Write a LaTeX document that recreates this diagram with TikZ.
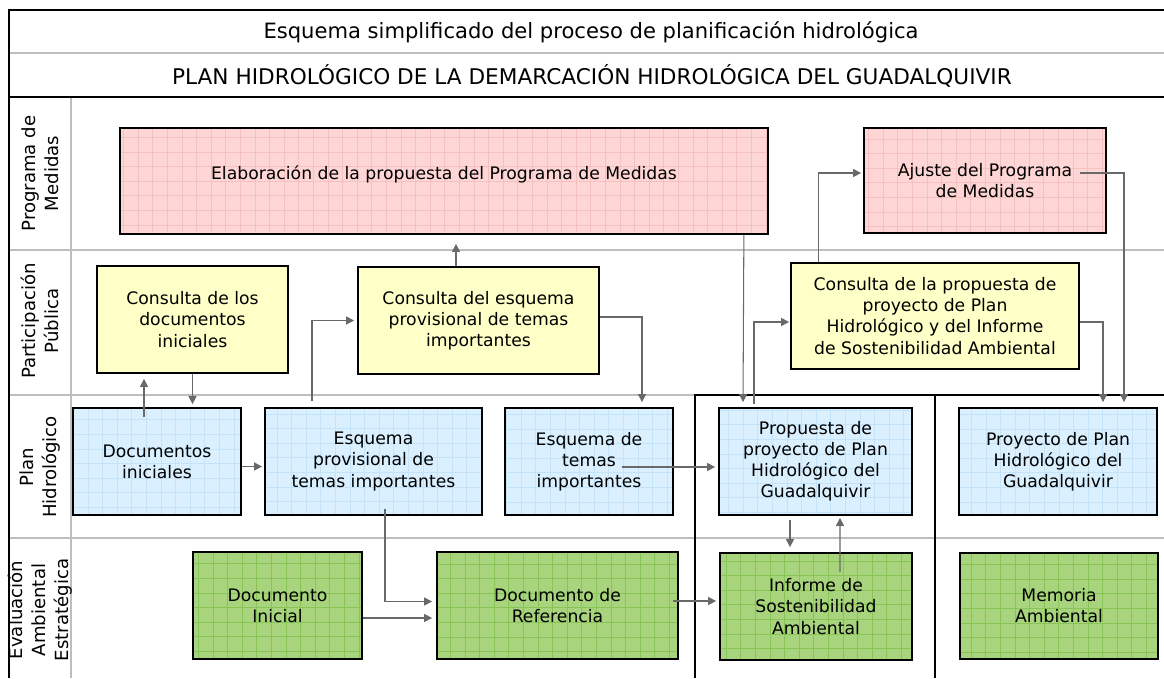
\documentclass[tikz,border=0pt]{standalone}
\usepackage{fontspec}
\setmainfont{DejaVu Sans}
\usetikzlibrary{calc,arrows.meta}
\definecolor{rosa}{RGB}{255,214,214}
\definecolor{rosagrid}{RGB}{245,192,192}
\definecolor{azul}{RGB}{218,240,255}
\definecolor{azulgrid}{RGB}{196,227,248}
\definecolor{amarillo}{RGB}{255,255,200}
\definecolor{verde}{RGB}{168,212,125}
\definecolor{verdegrid}{RGB}{136,196,86}
\definecolor{linea}{RGB}{190,190,190}
\definecolor{flechagris}{RGB}{105,105,105}
\tikzset{
  caja/.style={draw=black, line width=1pt, align=center, inner sep=2pt,
    font=\fontsize{9.8}{12}\selectfont},
  tam/.style 2 args={minimum width=#1*0.2mm, minimum height=#2*0.2mm},
  cuadricula/.style={path picture={\draw[#1, line width=0.45pt]
    (path picture bounding box.south west) grid[step=2.92mm]
    (path picture bounding box.north east);}},
  rosabox/.style={caja, fill=rosa, cuadricula=rosagrid},
  azulbox/.style={caja, fill=azul, cuadricula=azulgrid},
  amarillobox/.style={caja, fill=amarillo},
  verdebox/.style={caja, fill=verde, cuadricula=verdegrid},
  carril/.style={rotate=90, align=center, font=\fontsize{10.3}{13}\selectfont},
  flecha/.style={flechagris, line width=0.6pt, -{Triangle[length=4.6pt,width=4.6pt]}}
}
\begin{document}
\begin{tikzpicture}[x=0.2mm, y=-0.2mm]
\useasboundingbox (0,0) rectangle (1164,678);
% lanes and frame
\draw[linea, line width=1pt] (9,53) -- (1164,53);
\draw[linea, line width=1pt] (71,97) -- (71,678);
\foreach \y in {250,395,538}
  \draw[linea, line width=1pt] (9,\y) -- (1164,\y);
\draw[line width=1.3pt] (1164,10) -- (9,10) -- (9,678);
\draw[line width=1.3pt] (9,97) -- (1164,97);
\draw[line width=1.3pt] (695,678) -- (695,395) -- (1164,395);
\draw[line width=1.3pt] (935,395) -- (935,678);
% titles
\node[font=\fontsize{12}{14}\selectfont] (titulo) at (591,32)
  {Esquema simplificado del proceso de planificación hidrológica};
\node[font=\fontsize{12.3}{14}\selectfont] (subtitulo) at (592,76)
  {PLAN HIDROLÓGICO DE LA DEMARCACIÓN HIDROLÓGICA DEL GUADALQUIVIR};
% lane labels
\node[carril] (lpm) at (40,173.5) {Programa de\\Medidas};
\node[carril] (lpp) at (40,321) {Participación\\Pública};
\node[carril] (lph) at (40,467) {Plan\\Hidrológico};
\node[carril] (lea) at (40,610) {Evaluación\\Ambiental\\Estratégica};
% Programa de Medidas
\node[rosabox, tam={648}{106}] (elab) at (444,181)
  {\raisebox{9pt}{Elaboración de la propuesta del Programa de Medidas}};
\node[rosabox, tam={242}{105}] (ajus) at (985,180.5)
  {Ajuste del Programa\\de Medidas};
% Participacion Publica
\node[amarillobox, tam={191}{107}] (cdi) at (192.5,319.5)
  {Consulta de los\\documentos\\iniciales};
\node[amarillobox, tam={241}{107}] (cesq) at (478.5,320.5)
  {Consulta del esquema\\provisional de temas\\importantes};
\node[amarillobox, tam={288}{106}] (cprop) at (935,316)
  {Consulta de la propuesta de\\proyecto de Plan\\Hidrológico y del Informe\\de Sostenibilidad Ambiental};
% Plan Hidrologico
\node[azulbox, tam={168}{107}] (dini) at (157,461.5) {Documentos\\iniciales};
\node[azulbox, tam={217}{107}] (epro) at (373.5,461.5)
  {Esquema\\provisional de\\temas importantes};
\node[azulbox, tam={168}{107}] (etem) at (589,461.5)
  {Esquema de\\temas\\importantes};
\node[azulbox, tam={193}{107}] (pprop) at (815.5,461.5)
  {Propuesta de\\proyecto de Plan\\Hidrológico del\\Guadalquivir};
\node[azulbox, tam={198}{107}] (proy) at (1058,461.5)
  {Proyecto de Plan\\Hidrológico del\\Guadalquivir};
% Evaluacion Ambiental Estrategica
\node[verdebox, tam={169}{107}] (dinic) at (277.5,605.5) {Documento\\Inicial};
\node[verdebox, tam={241}{107}] (dref) at (557.5,605.5) {Documento de\\Referencia};
\node[verdebox, tam={192}{107}] (isa) at (816,606.5)
  {Informe de\\Sostenibilidad\\Ambiental};
\node[verdebox, tam={198}{106}] (mem) at (1059,606) {Memoria\\Ambiental};
% connectors
\draw[flecha] ($(dini.north)+(-13,10)$) -- ($(cdi.south)+(-48.5,5)$);
\draw[flecha] (cdi.south) -- ($(cdi.south |- dini.north)+(0,-3)$);
\draw[flecha] ($(dini.east)+(0,5)$) -- ($(epro.west)+(-2,5)$);
\draw[flecha] ($(epro.north)+(-61.5,-6)$) |- ($(cesq.west)+(-3,0)$);
\draw[flecha] ($(cesq.north)+(-22.5,0)$) -- ($(elab.south)+(12,9)$);
\draw[flecha] ($(cesq.east)+(0,-3.5)$) -| ($(etem.north)+(53,-5)$);
\draw[flecha] ($(elab.south east)+(-25,0)$) -- ($(pprop.north)+(-72.5,-5)$);
\draw[flecha] ($(etem.center)+(33,5.5)$) -- ($(pprop.west)+(-3,5.5)$);
\draw[flecha] ($(pprop.north)+(-61.5,-3)$) |- ($(cprop.west)+(-1,6)$);
\draw[flecha] ($(cprop.north west)+(28,0)$) |- ($(ajus.west)+(-2,-7.5)$);
\draw[flecha] ($(ajus.center)+(95,-7.5)$) -| ($(proy.north)+(66,-5)$);
\draw[flecha] ($(cprop.east)+(0,6)$) -| ($(proy.north)+(45,-5)$);
\draw[flecha] ($(pprop.south)+(-25.5,4)$) -- ($(isa.north)+(-26,-5)$);
\draw[flecha] ($(isa.north)+(24,20)$) -- ($(pprop.south)+(24.5,2)$);
\draw[flecha] ($(epro.south)+(11.5,-7)$) |- ($(dref.west)+(-4,-4)$);
\draw[flecha] ($(dinic.east)+(0,12.5)$) -- ($(dref.west)+(-4,12.5)$);
\draw[flecha] ($(dref.east)+(-6,-4.5)$) -- ($(isa.west)+(-3,-5.5)$);
\end{tikzpicture}
\end{document}
